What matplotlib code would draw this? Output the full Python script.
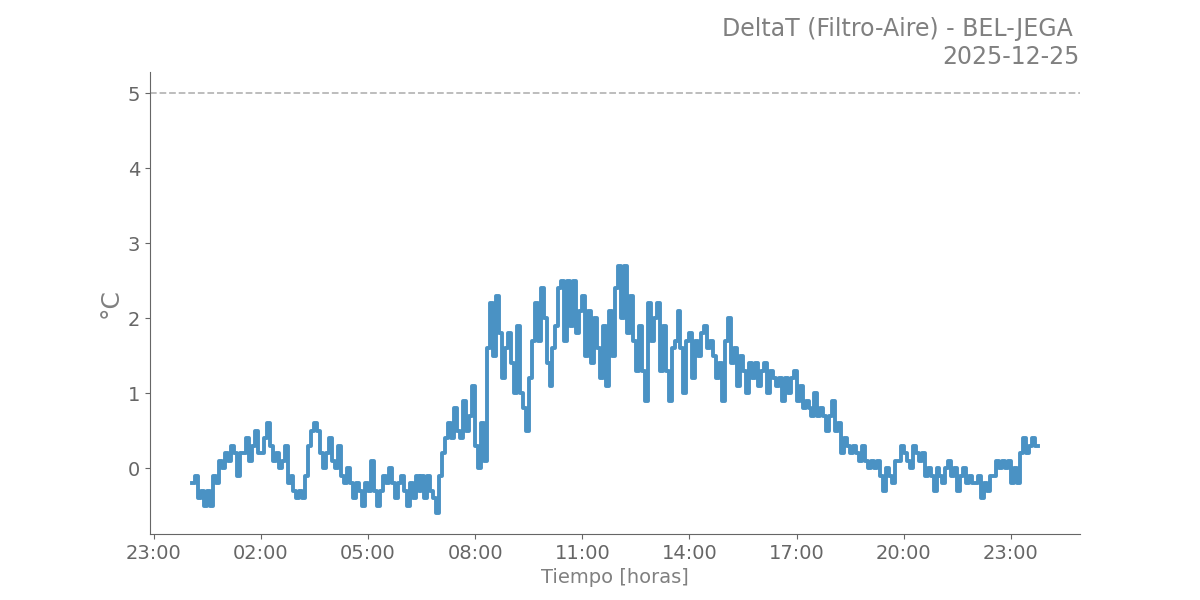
import numpy as np
import pandas as pd
import matplotlib
matplotlib.use('Agg')
import matplotlib.pyplot as plt
import matplotlib.dates as mdates

# DeltaT readings every 5 minutes, one row per hour (first row starts at 00:05)
h00 = [-0.2, -0.1, -0.4, -0.3, -0.5, -0.3, -0.5, -0.1, -0.2, 0.1, 0.0]
h01 = [0.2, 0.1, 0.3, 0.2, -0.1, 0.2, 0.2, 0.4, 0.1, 0.3, 0.5, 0.2]
h02 = [0.2, 0.4, 0.6, 0.3, 0.1, 0.2, 0.0, 0.1, 0.3, -0.2, -0.1, -0.3]
h03 = [-0.4, -0.3, -0.4, -0.1, 0.3, 0.5, 0.6, 0.5, 0.2, 0.0, 0.2, 0.4]
h04 = [0.1, 0.0, 0.3, -0.1, -0.2, 0.0, -0.2, -0.4, -0.2, -0.3, -0.5, -0.2]
h05 = [-0.3, 0.1, -0.3, -0.5, -0.3, -0.1, -0.2, 0.0, -0.2, -0.4, -0.2, -0.1]
h06 = [-0.3, -0.5, -0.2, -0.4, -0.1, -0.3, -0.1, -0.4, -0.1, -0.3, -0.4, -0.6]
h07 = [-0.1, 0.2, 0.4, 0.6, 0.4, 0.8, 0.5, 0.4, 0.9, 0.5, 0.7, 1.1]
h08 = [0.3, 0.0, 0.6, 0.1, 1.6, 2.2, 1.5, 2.3, 1.8, 1.2, 1.6, 1.8]
h09 = [1.4, 1.0, 1.9, 1.0, 0.8, 0.5, 1.2, 1.7, 2.2, 1.7, 2.4, 2.0]
h10 = [1.4, 1.1, 1.6, 1.9, 2.4, 2.5, 1.7, 2.5, 1.9, 2.5, 1.8, 2.1]
h11 = [2.3, 1.5, 2.1, 1.4, 2.0, 1.6, 1.2, 1.9, 1.1, 2.1, 1.5, 2.4]
h12 = [2.7, 2.0, 2.7, 1.8, 2.3, 1.7, 1.3, 1.9, 1.3, 0.9, 2.2, 1.7]
h13 = [2.0, 2.2, 1.3, 1.9, 1.3, 0.9, 1.6, 1.7, 2.1, 1.6, 1.0, 1.7]
h14 = [1.8, 1.2, 1.7, 1.5, 1.8, 1.9, 1.6, 1.7, 1.5, 1.2, 1.4, 0.9]
h15 = [1.7, 2.0, 1.4, 1.6, 1.1, 1.5, 1.3, 1.0, 1.4, 1.2, 1.4, 1.1]
h16 = [1.3, 1.4, 1.0, 1.3, 1.2, 1.1, 1.2, 0.9, 1.2, 1.0, 1.2, 1.3]
h17 = [0.9, 1.1, 0.8, 0.9, 0.8, 0.7, 1.0, 0.7, 0.8, 0.7, 0.5, 0.7]
h18 = [0.9, 0.5, 0.6, 0.2, 0.4, 0.3, 0.2, 0.3, 0.2, 0.1, 0.3, 0.1]
h19 = [0.0, 0.1, 0.0, 0.1, -0.1, -0.3, 0.0, -0.1, -0.2, 0.1, 0.1, 0.3]
h20 = [0.2, 0.1, 0.0, 0.3, 0.2, 0.1, 0.2, -0.1, 0.0, -0.1, -0.3, 0.0]
h21 = [-0.1, -0.2, 0.0, 0.1, -0.1, 0.0, -0.3, -0.1, 0.0, -0.2, -0.1, -0.2]
h22 = [-0.2, -0.1, -0.4, -0.2, -0.3, -0.1, -0.1, 0.1, 0.0, 0.1, 0.0, 0.1]
h23 = [-0.2, 0.0, -0.2, 0.2, 0.4, 0.2, 0.3, 0.4, 0.3, 0.3]

delta_t = (h00 + h01 + h02 + h03 + h04 + h05 + h06 + h07 + h08 + h09 + h10 + h11
           + h12 + h13 + h14 + h15 + h16 + h17 + h18 + h19 + h20 + h21 + h22 + h23)
times = pd.date_range('2025-12-25 00:05', periods=len(delta_t), freq='5min')

station = 'BEL-JEGA'
day = '2025-12-25'
threshold = 5

gray = '#808080'

fig, ax = plt.subplots(figsize=(12, 6), dpi=100)

ax.plot(times, delta_t, color='#4a92c4', lw=2.8, drawstyle='steps-post')
ax.axhline(threshold, color='#b8b8b8', ls='--', lw=1.3)

ax.xaxis.set_major_locator(mdates.HourLocator(byhour=[23, 2, 5, 8, 11, 14, 17, 20]))
ax.xaxis.set_major_formatter(mdates.DateFormatter('%H:%M'))

ax.set_title(f'DeltaT (Filtro-Aire) - {station} \n{day}', loc='right',
             fontsize=17, color=gray)
ax.set_xlabel('Tiempo [horas]', fontsize=14, color=gray)
ax.set_ylabel('°C', fontsize=18, color=gray)

ax.spines['top'].set_visible(False)
ax.spines['right'].set_visible(False)
for s in ['left', 'bottom']:
    ax.spines[s].set_color('#666666')
ax.tick_params(colors='#666666', labelsize=14)

fig.savefig('out.png', dpi=100)
